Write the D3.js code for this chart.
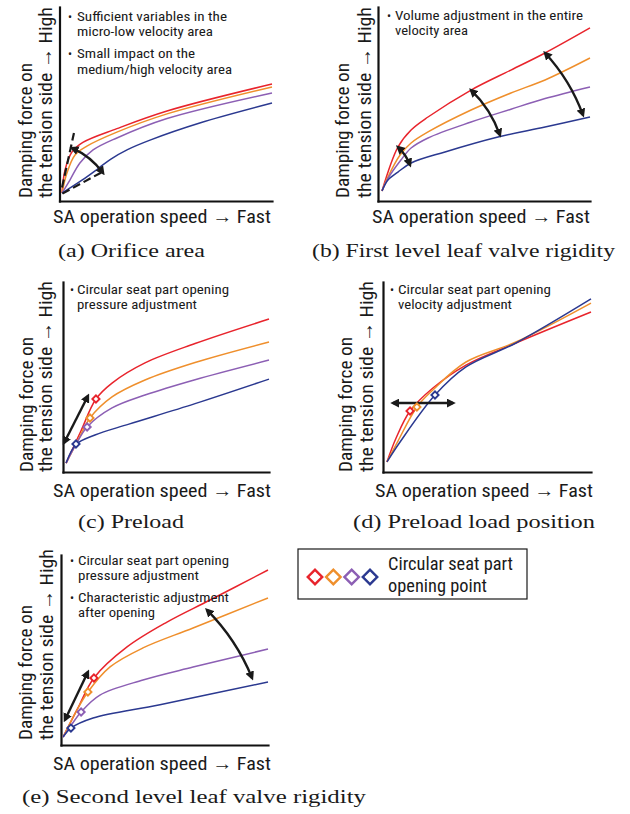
<!DOCTYPE html>
<html><head><meta charset="utf-8">
<script src="https://cdn.jsdelivr.net/npm/d3@7"></script>
<style>body{margin:0;background:#fff}svg{display:block}
.serif{font-family:"Liberation Serif","Times New Roman",Times,Tinos,"Nimbus Roman","FreeSerif","Noto Serif",serif}
.sans{font-family:"Liberation Sans Narrow","Roboto Condensed","Arial Narrow","Liberation Sans",Arial,sans-serif}
</style>
</head><body>
<script>
// ---------- DATA ----------
const seriesNames = ["red", "orange", "purple", "blue"];
const seriesColors = ["#e8242c", "#ef8f2c", "#8c5fb4", "#2b3990"];

// (a) Orifice area
const aRed    = [[1.2,4.1],[2.6,16],[5.9,25.3],[11,30.2],[27,37.3],[50.6,46.4],[100,60.3]];
const aOrange = [[1.2,4.1],[3.5,14.4],[7.3,23.7],[12.9,28.3],[27,35.5],[50.6,44.9],[100,58.8]];
const aPurple = [[1.2,4.1],[4.9,10.8],[9.6,19.6],[15.8,26.3],[27,32.5],[50.6,42.5],[100,55.7]];
const aBlue   = [[1.2,4.1],[10.4,10.6],[17.9,16.5],[24,21.5],[32,26.5],[42.6,31.4],[66,40.2],[100,50.5]];
const aDashed = [[1.2,7,6.8,35],[1.4,3.8,19.5,14.6]];
const aArrows = [[5.9,27.3,20.5,14.4]];
const aNotes  = [["Sufficient variables in the","micro-low velocity area"],["Small impact on the","medium/high velocity area"]];

// (b) First level leaf valve rigidity
const bRed    = [[1.9,5.2],[9.4,27.8],[15.6,36.6],[23.6,43.3],[43.9,57.2],[62.7,67.5],[78.8,76.3],[100,89.2]];
const bOrange = [[1.9,5.2],[4.7,12.4],[10.4,23.7],[15.6,29.9],[23.6,35.6],[43.9,46.9],[62.7,55.7],[78.8,62.4],[100,73.7]];
const bPurple = [[1.9,5.2],[4.7,11.6],[10.8,21.1],[15.6,27.3],[23.6,32.5],[43.9,40.7],[62.7,47.3],[78.8,52.8],[100,58.8]];
const bBlue   = [[1.9,5.2],[4.7,10.8],[9.4,14.9],[15.6,19.6],[31.6,25.3],[56.6,33],[78.8,38.1],[100,43.3]];
const bArrows = [[9.4,27.8,15.1,18.6],[43.9,57.2,57.5,34],[78.8,76.3,96.7,44.3]];
const bNotes  = [["Volume adjustment in the entire","velocity area"]];

// (c) Preload
const cRed    = [[1.5,4.7],[8.7,21.6],[16,38.4],[23.8,46.8],[39.8,57.4],[64.1,67.6],[100,80.5]];
const cOrange = [[1.5,4.7],[7.3,16.8],[13.1,28.4],[23.8,39.5],[39.8,48.4],[64.1,57.6],[100,68.4]];
const cPurple = [[1.5,4.7],[6.3,14.5],[11.7,23.7],[23.8,33.7],[39.8,40.5],[64.1,48.6],[100,58.9]];
const cBlue   = [[1.5,4.7],[6.3,14.5],[15.5,19.5],[32,25.2],[64.1,36],[100,48.9]];
const cOpen   = [[16,38.4],[13.1,28.4],[11.7,23.7],[6.3,14.7]];
const cArrows = [[0.5,15.3,12.1,40]];
const cNotes  = [["Circular seat part opening","pressure adjustment"]];

// (d) Preload load position
const dRed    = [[1.9,5.3],[6.3,17.9],[13,32.1],[24,44.2],[39.9,56.3],[63.9,67.9],[100,84.2]];
const dOrange = [[1.9,5.3],[7.2,16.3],[16.3,34.2],[24,43.2],[39.9,57.9],[63.9,68.4],[100,88.9]];
const dBlue   = [[1.9,5.3],[8.2,15.8],[25,40.5],[39.9,55.3],[63.9,67.9],[100,91.1]];
const dOpen   = [[13,32.1],[16.3,34.2],null,[25,40.5]];
const dArrows = [[4.8,36.3,33.7,36.3]];
const dNotes  = [["Circular seat part opening","velocity adjustment"]];

// (e) Second level leaf valve rigidity
const eRed    = [[1,4.2],[8.2,19.5],[15.9,35.3],[31.9,51.6],[51.2,64.7],[72,76.3],[100,92.1]];
const eOrange = [[1,4.2],[7.2,17.4],[13,27.9],[23.7,41.1],[39.6,51.1],[63.8,61.6],[100,77.4]];
const ePurple = [[1,4.2],[5,10.5],[9.7,17.4],[18.8,26.3],[39.6,34.2],[63.8,41],[100,50.5]];
const eBlue   = [[1,4.2],[4.8,8.9],[15.5,14.2],[47.8,21.2],[100,33.2]];
const eOpen   = [[15.9,35.3],[13,27.9],[9.7,17.4],[4.8,8.9]];
const eArrows = [[1.9,13.2,13,38.4],[70.5,71.1,92.3,35.3]];
const eNotes  = [["Circular seat part opening","pressure adjustment"],["Characteristic adjustment","after opening"]];

const yLabelLines = ["Damping force on", "the tension side \u2192 High"];
const xLabel = "SA operation speed \u2192 Fast";
const captions = ["(a) Orifice area","(b) First level leaf valve rigidity","(c) Preload","(d) Preload load position","(e) Second level leaf valve rigidity"];
const legendLines = ["Circular seat part","opening point"];

// ---------- LAYOUT ----------
const panels = [
 {series:[aRed,aOrange,aPurple,aBlue], open:null, arrows:aArrows, bends:[0.14], dashed:aDashed, notes:aNotes,
  left:59.5,right:272,top:7,bottom:201, yl:[32,52], ylB:198, xlX:53, xlY:223, bx:68, nx:77, nY:[[21,36],[58,74]], nW:[[150,136],[118,155]],
  cap:0, capX:58, capY:257, capW:147},
 {series:[bRed,bOrange,bPurple,bBlue], open:null, arrows:bArrows, bends:[0.12,0.12,0.1], dashed:[], notes:bNotes,
  left:378,right:590,top:7,bottom:201, yl:[349,371], ylB:198, xlX:372, xlY:223, bx:387, nx:395, nY:[[20,35]], nW:[[188,73]],
  cap:1, capX:312, capY:257, capW:303},
 {series:[cRed,cOrange,cPurple,cBlue], open:cOpen, arrows:cArrows, bends:[0], dashed:[], notes:cNotes,
  left:63,right:269,top:282,bottom:472, yl:[33,52], ylB:472, xlX:53, xlY:497, bx:70, nx:77, nY:[[294,309]], nW:[[152,120]],
  cap:2, capX:78, capY:528, capW:106},
 {series:[dRed,dOrange,null,dBlue], open:dOpen, arrows:dArrows, bends:[0], dashed:[], notes:dNotes,
  left:383,right:591,top:282,bottom:472, yl:[352,373], ylB:472, xlX:375, xlY:497, bx:390, nx:398, nY:[[294,309]], nW:[[153,114]],
  cap:3, capX:353, capY:528, capW:242},
 {series:[eRed,eOrange,ePurple,eBlue], open:eOpen, arrows:eArrows, bends:[0,0.1], dashed:[], notes:eNotes,
  left:61,right:268,top:555,bottom:745, yl:[32,53], ylB:740, xlX:53, xlY:770, bx:70, nx:78, nY:[[565,580],[602,617]], nW:[[151,121],[151,77]],
  cap:4, capX:22, capY:803, capW:344}
];

// ---------- DRAW ----------
const svg = d3.select("body").append("svg").attr("width",630).attr("height",814);
svg.append("rect").attr("width",630).attr("height",814).attr("fill","#fff");
svg.append("defs").append("marker").attr("id","ah")
  .attr("viewBox","0 0 10 10").attr("refX",7).attr("refY",5)
  .attr("markerWidth",9).attr("markerHeight",9).attr("markerUnits","userSpaceOnUse")
  .attr("orient","auto-start-reverse")
  .append("path").attr("d","M0,0L10,5L0,10z").attr("fill","#1a1a1a");

const diamond = d3.symbol().type(d3.symbolSquare);

panels.forEach(p => {
  const x = d3.scaleLinear().domain([0,100]).range([p.left,p.right]);
  const y = d3.scaleLinear().domain([0,100]).range([p.bottom,p.top]);
  const g = svg.append("g");

  // axes
  g.append("g").attr("transform",`translate(${p.left},0)`)
    .call(d3.axisLeft(y).tickValues([]).tickSizeOuter(0));
  g.append("g").attr("transform",`translate(0,${p.bottom})`)
    .call(d3.axisBottom(x).tickValues([]).tickSizeOuter(0));
  g.selectAll(".domain").attr("stroke","#111").attr("stroke-width",2.2).attr("stroke-linecap","square");

  // lines
  const line = d3.line().x(d=>x(d[0])).y(d=>y(d[1])).curve(d3.curveCatmullRom.alpha(0.5));
  p.series.forEach((s,i) => {
    if (!s) return;
    g.append("path").attr("d",line(s)).attr("fill","none")
      .attr("stroke",seriesColors[i]).attr("stroke-width",1.5);
  });

  // dashed guides
  p.dashed.forEach(d => {
    g.append("line").attr("x1",x(d[0])).attr("y1",y(d[1])).attr("x2",x(d[2])).attr("y2",y(d[3]))
      .attr("stroke","#1a1a1a").attr("stroke-width",2.2).attr("stroke-dasharray","8,4");
  });

  // arrows
  p.arrows.forEach((a,i) => {
    const x0=x(a[0]), y0=y(a[1]), x1=x(a[2]), y1=y(a[3]);
    const dx=x1-x0, dy=y1-y0, b=p.bends[i]||0;
    const cx=(x0+x1)/2 + dy*b, cy=(y0+y1)/2 - dx*b;
    g.append("path").attr("d",`M${x0},${y0}Q${cx},${cy} ${x1},${y1}`)
      .attr("fill","none").attr("stroke","#1a1a1a").attr("stroke-width",2.4)
      .attr("marker-start","url(#ah)").attr("marker-end","url(#ah)");
  });

  // opening points
  if (p.open) p.open.forEach((o,i) => {
    if (!o) return;
    g.append("path").attr("d",diamond.size(26)())
      .attr("transform",`translate(${x(o[0])},${y(o[1])}) rotate(45)`)
      .attr("fill","#fff").attr("stroke",seriesColors[i]).attr("stroke-width",1.9);
  });

  // y label
  yLabelLines.forEach((t,i) => {
    g.append("text").attr("class","sans").attr("transform",`translate(${p.yl[i]},${p.ylB}) rotate(-90)`)
      .attr("font-size",19).attr("fill","#1a1a1a")
      .attr("textLength",i===0?135:191).attr("lengthAdjust","spacingAndGlyphs").text(t);
  });
  // x label
  g.append("text").attr("class","sans").attr("x",p.xlX).attr("y",p.xlY).attr("font-size",19)
    .attr("fill","#1a1a1a").attr("textLength",218).attr("lengthAdjust","spacingAndGlyphs").text(xLabel);

  // notes
  p.notes.forEach((n,k) => {
    g.append("text").attr("class","sans").attr("x",p.bx).attr("y",p.nY[k][0]).attr("font-size",12)
      .attr("fill","#1a1a1a").text("\u2022");
    n.forEach((t,j) => {
      g.append("text").attr("class","sans").attr("x",p.nx).attr("y",p.nY[k][j]).attr("font-size",13)
        .attr("fill","#1a1a1a").attr("textLength",p.nW[k][j]).attr("lengthAdjust","spacingAndGlyphs").text(t);
    });
  });

  // caption
  g.append("text").attr("class","serif").attr("x",p.capX).attr("y",p.capY).attr("font-size",19.5)
    .attr("fill","#1a1a1a").attr("textLength",p.capW).attr("lengthAdjust","spacingAndGlyphs").text(captions[p.cap]);
});

// legend
const lg = svg.append("g");
lg.append("rect").attr("x",298).attr("y",549).attr("width",229).attr("height",50)
  .attr("fill","#fff").attr("stroke","#1a1a1a").attr("stroke-width",1.2);
const lx = d3.scalePoint().domain(seriesNames).range([315,370]);
seriesNames.forEach((s,i) => {
  lg.append("path").attr("d",diamond.size(105)())
    .attr("transform",`translate(${lx(s)},577) rotate(45)`)
    .attr("fill","#fff").attr("stroke",seriesColors[i]).attr("stroke-width",2.4);
});
legendLines.forEach((t,i) => {
  lg.append("text").attr("class","sans").attr("x",388).attr("y",570+i*22).attr("font-size",18)
    .attr("fill","#1a1a1a").attr("textLength",i===0?125:99).attr("lengthAdjust","spacingAndGlyphs").text(t);
});
</script>
</body></html>
